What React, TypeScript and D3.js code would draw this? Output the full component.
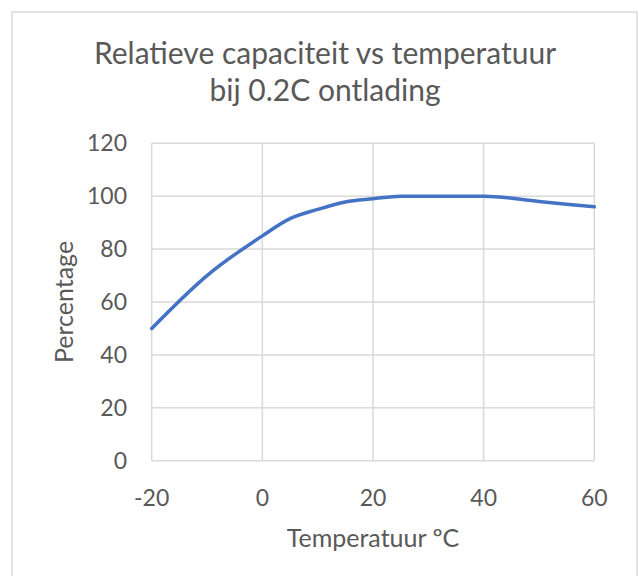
import React from "react";
import * as d3 from "d3";

const temperatures = [-20, -10, 0, 5, 10, 15, 20, 25, 40, 50, 60];
const percentages = [50, 70, 85, 91.5, 95, 97.8, 99, 100, 100, 98, 96];
const xTicks = [-20, 0, 20, 40, 60];
const yTicks = [0, 20, 40, 60, 80, 100, 120];
const titleLines = ["Relatieve capaciteit vs temperatuur", "bij 0.2C ontlading"];
const xLabel = "Temperatuur \u00BAC";
const yLabel = "Percentage";

export default function App() {
  const W = 639, H = 576;
  const left = 151.7, right = 594.3, top = 143.3, bottom = 460.7;
  const x = d3.scaleLinear().domain([-20, 60]).range([left, right]);
  const y = d3.scaleLinear().domain([0, 120]).range([bottom, top]);
  const pts: [number, number][] = temperatures.map((t, i) => [t, percentages[i]]);
  const line = d3
    .line<[number, number]>()
    .x((d) => x(d[0]))
    .y((d) => y(d[1]))
    .curve(d3.curveMonotoneX);
  const font = "Lato, 'Open Sans', sans-serif";
  const textColor = "#595959";
  return (
    <svg
      width={W}
      height={H}
      style={{ position: "absolute", left: 0, top: 0, background: "#fff" }}
    >
      <rect x={12} y={12} width={625} height={600} fill="#fff" stroke="#d9d9d9" strokeWidth={1.5} />
      {titleLines.map((t, i) => (
        <text
          key={i}
          x={325}
          y={64 + i * 37}
          textAnchor="middle"
          fontFamily={font}
          fontSize={30}
          fill={textColor}
        >
          {t}
        </text>
      ))}
      {yTicks.map((v) => (
        <line key={"gy" + v} x1={left} x2={right} y1={y(v)} y2={y(v)} stroke="#d9d9d9" strokeWidth={1.5} />
      ))}
      {xTicks.map((v) => (
        <line key={"gx" + v} x1={x(v)} x2={x(v)} y1={top} y2={bottom} stroke="#d9d9d9" strokeWidth={1.5} />
      ))}
      {yTicks.map((v) => (
        <text
          key={"ty" + v}
          x={127}
          y={y(v)}
          dy="0.35em"
          textAnchor="end"
          fontFamily={font}
          fontSize={23}
          fill={textColor}
        >
          {v}
        </text>
      ))}
      {xTicks.map((v) => (
        <text
          key={"tx" + v}
          x={x(v)}
          y={506}
          textAnchor="middle"
          fontFamily={font}
          fontSize={23}
          fill={textColor}
        >
          {v}
        </text>
      ))}
      <text
        x={373}
        y={547}
        textAnchor="middle"
        fontFamily={font}
        fontSize={25}
        fill={textColor}
      >
        {xLabel}
      </text>
      <text
        transform={`translate(73,302) rotate(-90)`}
        textAnchor="middle"
        fontFamily={font}
        fontSize={25}
        fill={textColor}
      >
        {yLabel}
      </text>
      <path d={line(pts) || ""} fill="none" stroke="#4472c4" strokeWidth={3.5} strokeLinejoin="round" strokeLinecap="round" />
    </svg>
  );
}
